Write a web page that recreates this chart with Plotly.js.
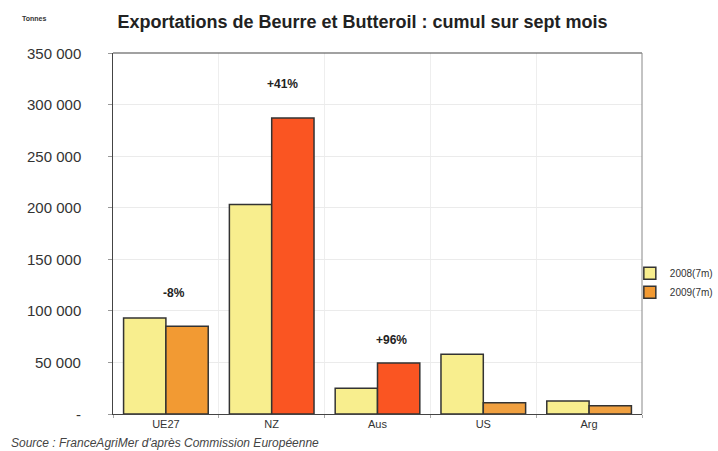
<!DOCTYPE html>
<html><head><meta charset="utf-8">
<script src="https://cdn.plot.ly/plotly-3.0.1.min.js"></script>
<style>html,body{margin:0;padding:0;background:#fff}#chart{width:718px;height:451px}</style>
</head><body><div id="chart"></div>
<script>
const categories = ["UE27", "NZ", "Aus", "US", "Arg"];
const values2008 = [93000, 203000, 25000, 58000, 12500];
const values2009 = [85000, 287000, 49500, 11000, 8000];
const colors2009 = ["#f29a33", "#fa5522", "#fa5522", "#f0a040", "#f0a040"];
const changeLabels = ["-8%", "+41%", "+96%"];
const changeCats = ["UE27", "NZ", "Aus"];
const changeY = [117000, 320000, 72000];
const changeShift = [8, 11, 14];
const yTickVals = [0, 50000, 100000, 150000, 200000, 250000, 300000, 350000];
const yTickText = ["-", "50 000", "100 000", "150 000", "200 000", "250 000", "300 000", "350 000"];

const font = "Liberation Sans, Arial, sans-serif";
const traces = [
  {type: "bar", name: "2008(7m)", x: categories, y: values2008,
   marker: {color: "#f8ee8e", line: {color: "#333", width: 1.5}}},
  {type: "bar", name: "2009(7m)", x: categories, y: values2009,
   marker: {color: colors2009, line: {color: "#333", width: 1.5}}}
];
const annotations = changeLabels.map((t, i) => ({
  text: t, x: changeCats[i], y: changeY[i], xref: "x", yref: "y",
  showarrow: false, xshift: changeShift[i], font: {family: font, size: 12, color: "#222", weight: "bold"}
}));
// y-axis tick labels, set away from the axis line as in the original
yTickVals.forEach((v, i) => annotations.push({
  text: yTickText[i], x: 0, y: v, xref: "paper", yref: "y", xanchor: "right", yanchor: "middle",
  xshift: -30, showarrow: false, font: {family: font, size: 15, color: "#333"}
}));
annotations.push({text: "Tonnes", xref: "paper", yref: "paper", x: -0.175, y: 1.11,
  xanchor: "left", showarrow: false, font: {family: font, size: 7, color: "#333", weight: "bold"}});
annotations.push({text: "<i>Source : FranceAgriMer d'après Commission Européenne</i>", xref: "paper", yref: "paper",
  x: -0.197, y: -0.055, xanchor: "left", yanchor: "top", showarrow: false,
  font: {family: font, size: 12, color: "#444"}});

const layout = {
  width: 718, height: 451,
  margin: {l: 113, r: 76, t: 53, b: 37, autoexpand: false},
  paper_bgcolor: "#fff", plot_bgcolor: "#fff",
  title: {text: "Exportations de Beurre et Butteroil : cumul sur sept mois",
    x: 0.505, xanchor: "center", y: 0.952, yanchor: "middle",
    font: {family: font, size: 18, color: "#222", weight: "bold"}},
  barmode: "group", bargap: 0.2, bargroupgap: 0,
  xaxis: {showline: true, linecolor: "#444", linewidth: 1, mirror: false,
    tickson: "boundaries", showgrid: true, gridcolor: "#eeeeee", ticks: "outside", ticklen: 3, tickcolor: "#aaa",
    tickfont: {family: font, size: 11, color: "#333"}, fixedrange: true},
  yaxis: {range: [0, 350000], tickvals: yTickVals, showticklabels: false,
    showline: true, linecolor: "#444", linewidth: 1,
    showgrid: true, gridcolor: "#ebebeb", zeroline: false,
    ticks: "outside", ticklen: 4, tickcolor: "#999"},
  shapes: [
    {type: "line", xref: "paper", yref: "paper", x0: 0, x1: 1, y0: 1, y1: 1, line: {color: "#444", width: 1.2}},
    {type: "line", xref: "paper", yref: "paper", x0: 1, x1: 1, y0: 0, y1: 1, line: {color: "#888", width: 1}}
  ],
  legend: {x: 0.977, y: 0.43, xanchor: "left", yanchor: "top", bgcolor: "rgba(0,0,0,0)",
    font: {family: font, size: 10, color: "#333"}, itemwidth: 30, tracegroupgap: 8},
  annotations: annotations,
  showlegend: true
};
Plotly.newPlot("chart", traces, layout, {displayModeBar: false, staticPlot: true});
</script></body></html>
